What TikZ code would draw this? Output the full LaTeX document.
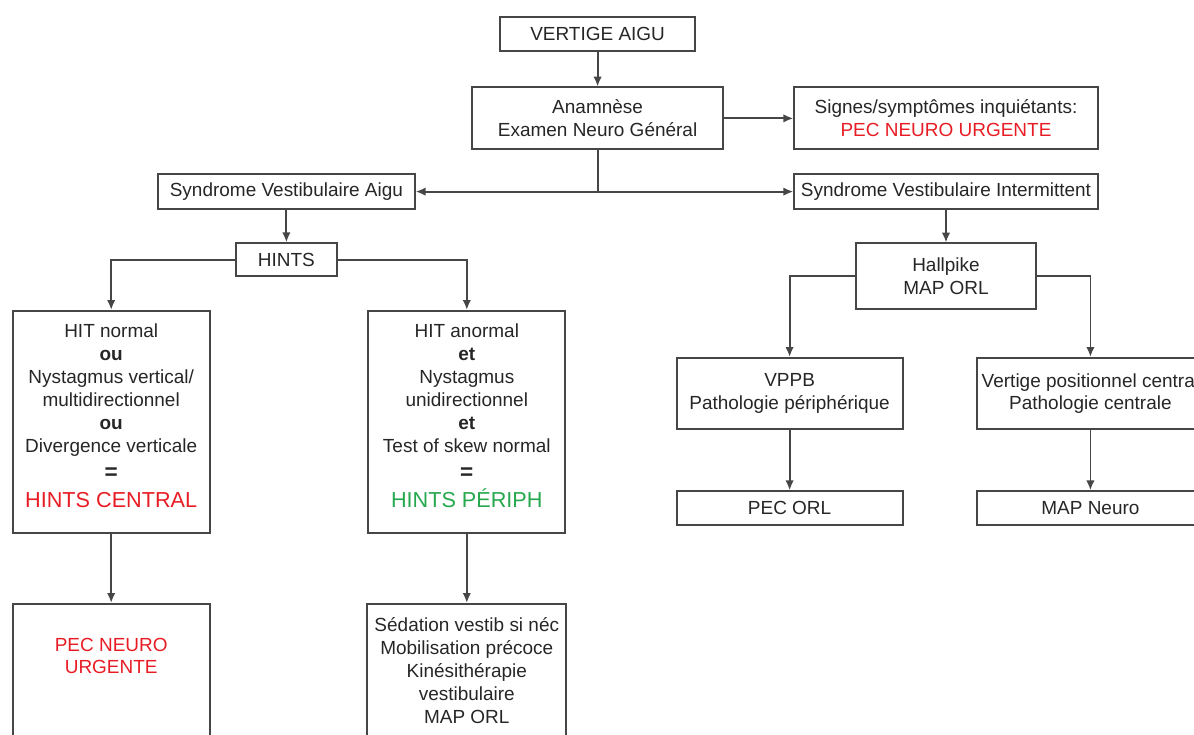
\documentclass[tikz,border=0pt]{standalone}
\usepackage{fontspec}
\setmainfont{Liberation Sans}
\usetikzlibrary{arrows.meta}
\definecolor{boxline}{RGB}{70,70,70}
\definecolor{urgred}{RGB}{232,28,36}
\definecolor{okgreen}{RGB}{38,168,78}

\begin{document}
\begin{tikzpicture}[auto, line width=1.3pt, boxline, >={Latex[length=7pt,width=6pt]},
    every node/.style={font=\fontsize{13.5}{16.3}\selectfont, text=black!85},
    box/.style={draw=boxline, align=center, inner sep=0pt}]
    \useasboundingbox (0,0) rectangle (29.85,18.35);
    \node[box, minimum width=4.86cm, minimum height=0.85cm] (v) at (14.94, 17.51) {VERTIGE AIGU};
    \node[box, minimum width=6.26cm, minimum height=1.55cm] (a) at (14.94, 15.39) {Anamnèse\\Examen Neuro Général};
    \node[box, minimum width=7.59cm, minimum height=1.55cm] (s) at (23.65, 15.39) {Signes/symptômes inquiétants:\\\textcolor{urgred}{PEC NEURO URGENTE}};
    \node[box, minimum width=6.42cm, minimum height=0.88cm] (sva) at (7.16, 13.56) {Syndrome Vestibulaire Aigu};
    \node[box, minimum width=7.59cm, minimum height=0.88cm] (svi) at (23.65, 13.56) {Syndrome Vestibulaire Intermittent};
    \coordinate (k) at (14.94, 13.56);
    \node[box, minimum width=2.54cm, minimum height=0.82cm] (h) at (7.16, 11.86) {HINTS};
    \node[box, minimum width=4.93cm, minimum height=5.56cm] (c) at (2.78, 7.80) {HIT normal\\\textbf{ou}\\Nystagmus vertical/\\multidirectionnel\\\textbf{ou}\\Divergence verticale\\[3pt]{\fontsize{16}{18}\selectfont\textbf{=}}\\[4pt]\textcolor{urgred}{\fontsize{15.4}{18}\selectfont HINTS CENTRAL}\rule[-9pt]{0pt}{9pt}};
    \node[box, minimum width=4.93cm, minimum height=5.56cm] (p) at (11.67, 7.80) {HIT anormal\\\textbf{et}\\Nystagmus\\unidirectionnel\\\textbf{et}\\Test of skew normal\\[3pt]{\fontsize{16}{18}\selectfont\textbf{=}}\\[4pt]\textcolor{okgreen}{\fontsize{15.4}{18}\selectfont HINTS PÉRIPH}\rule[-9pt]{0pt}{9pt}};
    \node[box, minimum width=4.93cm, minimum height=3.33cm] (n) at (2.78, 1.59) {};
    \node[align=center, text=urgred] (nt) at (2.78, 1.95) {PEC NEURO\\URGENTE};
    \node[box, minimum width=4.98cm, minimum height=3.33cm] (m) at (11.67, 1.59) {Sédation vestib si néc\\Mobilisation précoce\\Kinésithérapie\\vestibulaire\\MAP ORL};
    \node[box, minimum width=4.48cm, minimum height=1.65cm] (hp) at (23.65, 11.44) {Hallpike\\MAP ORL};
    \node[box, minimum width=5.65cm, minimum height=1.79cm] (b) at (19.74, 8.51) {VPPB\\Pathologie périphérique};
    \node[box, minimum width=5.66cm, minimum height=1.79cm] (vc) at (27.26, 8.51) {Vertige positionnel central\\Pathologie centrale};
    \node[box, minimum width=5.65cm, minimum height=0.84cm] (o) at (19.74, 5.65) {PEC ORL};
    \node[box, minimum width=5.66cm, minimum height=0.84cm] (mn) at (27.26, 5.65) {MAP Neuro};
    \draw [->] (v) -- (a);
    \draw [->] (a) -- (s);
    \draw (a) -- (k);
    \draw [->] (k) -- (sva);
    \draw [->] (k) -- (svi);
    \draw [->] (sva) -- (h);
    \draw [->] (h) -| (c);
    \draw [->] (h) -| (p);
    \draw [->] (c) -- (n);
    \draw [->] (p) -- (m);
    \draw [->] (svi) -- (hp);
    \draw [->] (hp) -| (b);
    \draw [->] (hp) -| (vc);
    \draw [->] (b) -- (o);
    \draw [->] (vc) -- (mn);
\end{tikzpicture}
\end{document}
